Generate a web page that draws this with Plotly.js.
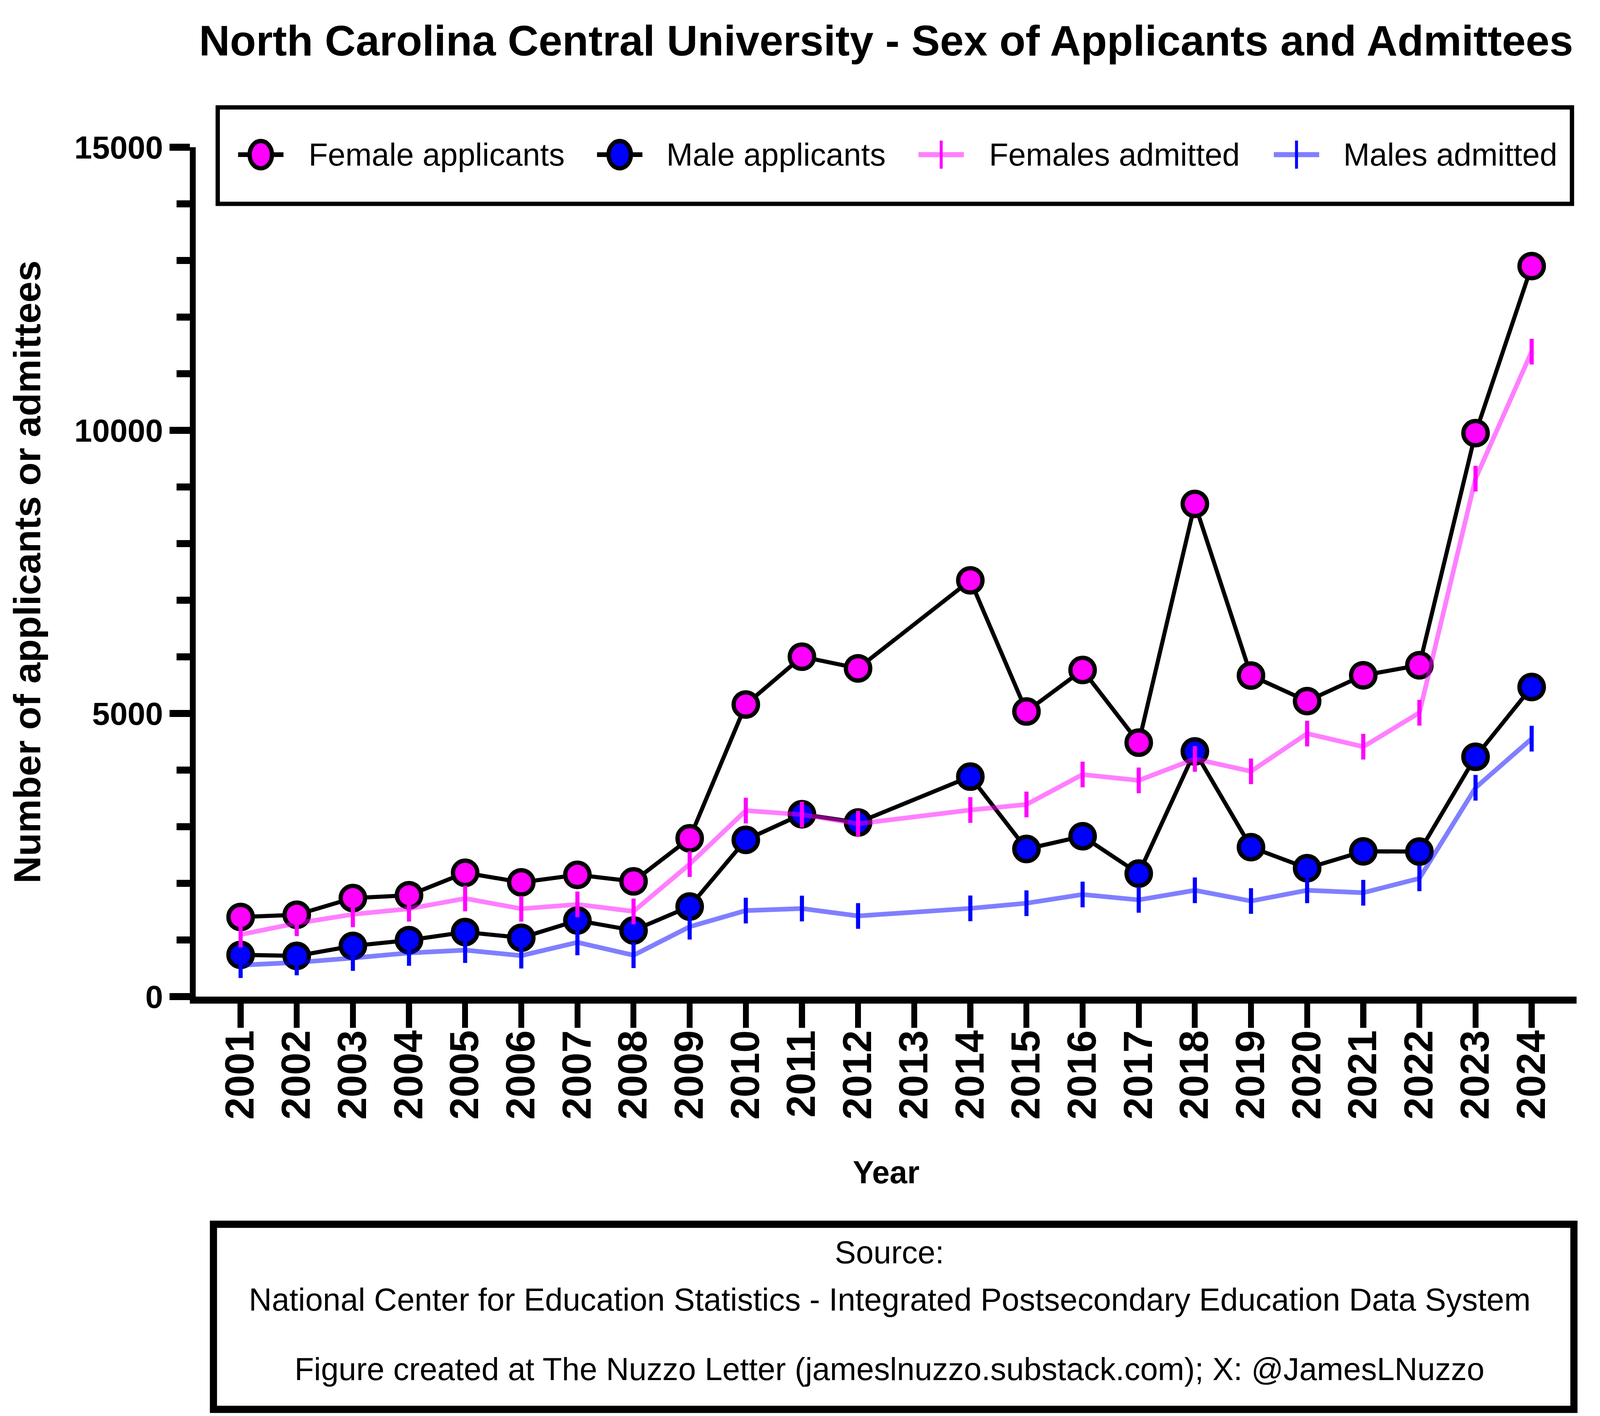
<!DOCTYPE html>
<html>
<head>
<meta charset="utf-8">
<script src="https://cdn.plot.ly/plotly-3.0.1.min.js"></script>
<style>
  html, body { margin: 0; padding: 0; background: #fff; overflow: hidden; }
</style>
</head>
<body>
<div id="chart"></div>
<script>
// years with data (no 2013 values in the source)
const years = [2001, 2002, 2003, 2004, 2005, 2006, 2007, 2008, 2009, 2010, 2011, 2012,
               2014, 2015, 2016, 2017, 2018, 2019, 2020, 2021, 2022, 2023, 2024];

// every year on the axis, 2013 included
const tickYears = [2001, 2002, 2003, 2004, 2005, 2006, 2007, 2008, 2009, 2010, 2011, 2012,
                   2013, 2014, 2015, 2016, 2017, 2018, 2019, 2020, 2021, 2022, 2023, 2024];
const tickLabels = tickYears.map(String);

const femaleApplicants = [1405, 1445, 1740, 1790, 2186, 2018, 2150, 2035, 2795, 5158, 6003, 5797,
                          7351, 5035, 5768, 4485, 8701, 5670, 5218, 5674, 5852, 9951, 12901];
const maleApplicants   = [737, 719, 895, 997, 1140, 1039, 1344, 1168, 1590, 2768, 3221, 3074,
                          3885, 2607, 2832, 2172, 4330, 2639, 2267, 2565, 2561, 4235, 5467];
const femalesAdmitted  = [1095, 1295, 1453, 1551, 1733, 1551, 1628, 1505, 2340, 3285, 3214, 3052,
                          3295, 3393, 3922, 3818, 4197, 3978, 4645, 4413, 5013, 9147, 11390];
const malesAdmitted    = [555, 603, 681, 771, 821, 723, 957, 730, 1234, 1519, 1555, 1424,
                          1558, 1649, 1803, 1708, 1877, 1688, 1877, 1834, 2088, 3688, 4555];

const yTicks = [0, 5000, 10000, 15000];
const yTickLabels = ['0', '5000', '10000', '15000'];

const seriesNames = ['Female applicants', 'Male applicants', 'Females admitted', 'Males admitted'];

const sourceLines = [
  'Source:',
  'National Center for Education Statistics - Integrated Postsecondary Education Data System',
  'Figure created at The Nuzzo Letter (jameslnuzzo.substack.com); X: @JamesLNuzzo'
];

const FONT = 'Liberation Sans, Arial, Helvetica, sans-serif';

// sizes below are measured on a 4867x3626 figure; the browser window may be
// narrower, so everything is scaled to whatever window we actually get
const REF_W = 4867, REF_H = 3626;
const W = window.innerWidth || REF_W, H = window.innerHeight || REF_H;
const kx = W / REF_W, ky = H / REF_H;
const k = Math.min(kx, ky), km = Math.sqrt(kx * ky);

const M = {l: 595 * kx, r: 71 * kx, t: 377 * ky, b: 1074 * ky};

// reference pixel position -> paper coordinate (frames, legend, notes)
function px(x) { return (x - 595) / (REF_W - 595 - 71); }
function py(y) { return (REF_H - 1074 - y) / (REF_H - 377 - 1074); }

const MAGENTA = '#FF00FF', BLUE = '#0000FF';
const MAGENTA_LINE = 'rgba(255,0,255,0.5)', BLUE_LINE = 'rgba(0,0,255,0.5)';

function applicants(name, y, fill) {
  return {
    x: years, y: y, name: name, type: 'scatter', mode: 'lines+markers', showlegend: false,
    line: {color: '#000000', width: 11.5 * km},
    marker: {symbol: 'circle', size: 68 * km, color: fill, line: {color: '#000000', width: 12 * km}}
  };
}

function admitted(name, y, lineColor, tickColor) {
  return {
    x: years, y: y, name: name, type: 'scatter', mode: 'lines+markers', showlegend: false,
    line: {color: lineColor, width: 13 * km},
    marker: {symbol: 'line-ns', size: 47 * ky, color: tickColor, line: {color: tickColor, width: 12.5 * kx}}
  };
}

var traces = [
  applicants(seriesNames[0], femaleApplicants, MAGENTA),
  applicants(seriesNames[1], maleApplicants, BLUE),
  admitted(seriesNames[2], femalesAdmitted, MAGENTA_LINE, MAGENTA),
  admitted(seriesNames[3], malesAdmitted, BLUE_LINE, BLUE)
];

// hand-made legend: Plotly caps legend symbols at 16px, far too small here
var legendY = py(396);
var legendMarkX = [793, 1885, 2863, 3944];
var legendTextX = [936, 2025, 3006, 4084];
var legendShapes = [];
var legendTexts = [];
legendMarkX.forEach(function (cx, i) {
  var isApplicants = i < 2;
  var fill = (i % 2 === 0) ? MAGENTA : BLUE;
  legendShapes.push({
    type: 'line', xref: 'paper', yref: 'paper', xsizemode: 'pixel', xanchor: px(cx),
    x0: -69 * kx, x1: 69 * kx, y0: legendY, y1: legendY,
    line: {color: isApplicants ? '#000' : (i === 2 ? MAGENTA_LINE : BLUE_LINE),
           width: (isApplicants ? 12 : 13) * ky}
  });
  if (isApplicants) {
    legendShapes.push({
      type: 'circle', xref: 'paper', yref: 'paper', xsizemode: 'pixel', ysizemode: 'pixel',
      xanchor: px(cx), yanchor: legendY, x0: -34 * kx, x1: 34 * kx, y0: -35 * ky, y1: 35 * ky,
      fillcolor: fill, line: {color: '#000', width: 12 * km}
    });
  } else {
    legendShapes.push({
      type: 'line', xref: 'paper', yref: 'paper', xsizemode: 'pixel', ysizemode: 'pixel',
      xanchor: px(cx), yanchor: legendY, x0: 0, x1: 0, y0: -36 * ky, y1: 36 * ky,
      line: {color: fill, width: 9 * kx}
    });
  }
  legendTexts.push({
    text: seriesNames[i], xref: 'paper', yref: 'paper', x: px(legendTextX[i]), y: legendY,
    xanchor: 'left', yanchor: 'middle', showarrow: false,
    font: {family: FONT, size: 96 * k, color: '#000'}
  });
});

var sourceY = [py(3206), py(3327), py(3505)];
var sourceTexts = sourceLines.map(function (t, i) {
  return {text: t, xref: 'paper', yref: 'paper', x: px(2706), y: sourceY[i],
          xanchor: 'center', yanchor: 'middle', showarrow: false,
          font: {family: FONT, size: 96.5 * k, color: '#000'}};
});

var layout = {
  width: W, height: H,
  margin: M,
  paper_bgcolor: '#fff', plot_bgcolor: '#fff',
  font: {family: FONT, color: '#000'},
  showlegend: false,
  title: {
    text: 'North Carolina Central University - Sex of Applicants and Admittees',
    font: {family: FONT, size: 130 * k, color: '#000', weight: 700},
    xref: 'paper', x: 0.5, xanchor: 'center',
    yref: 'container', y: 1 - 104 / REF_H, yanchor: 'middle'
  },
  xaxis: {
    range: [2000.2, 2024.8],
    showline: true, linecolor: '#000', linewidth: 18 * ky,
    ticks: 'outside', tickcolor: '#000', tickwidth: 18 * kx, ticklen: 62 * ky,
    showgrid: false, zeroline: false, automargin: false,
    tickmode: 'array', tickvals: tickYears, ticktext: tickLabels,
    tickangle: -90, ticklabelstandoff: -35 * ky,
    // rotated labels run along y, so they follow the vertical scale
    tickfont: {family: FONT, size: 103 * ky, color: '#000', weight: 700},
    title: {text: 'Year', font: {family: FONT, size: 96 * k, color: '#000', weight: 700}, standoff: 115 * ky}
  },
  yaxis: {
    range: [0, 15000],
    showline: true, linecolor: '#000', linewidth: 18 * kx,
    ticks: 'outside', tickcolor: '#000', tickwidth: 18 * ky, ticklen: 62 * kx,
    showgrid: false, zeroline: false, automargin: false,
    tickmode: 'array', tickvals: yTicks, ticktext: yTickLabels, ticklabelstandoff: -30 * kx,
    tickfont: {family: FONT, size: 97 * k, color: '#000', weight: 700},
    minor: {dtick: 1000, tick0: 0, ticks: 'outside', ticklen: 40 * kx, tickwidth: 18 * ky, tickcolor: '#000'},
    title: {text: 'Number of applicants or admittees',
            font: {family: FONT, size: 97 * ky, color: '#000', weight: 700}, standoff: 72 * kx}
  },
  shapes: [
    // legend frame
    {type: 'rect', xref: 'paper', yref: 'paper', x0: px(662), x1: px(4782), y0: py(522), y1: py(275),
     line: {color: '#000', width: 12 * km}, fillcolor: 'rgba(0,0,0,0)'},
    // source box
    {type: 'rect', xref: 'paper', yref: 'paper', x0: px(649), x1: px(4788), y0: py(3609), y1: py(3135),
     line: {color: '#000', width: 20 * km}, fillcolor: 'rgba(0,0,0,0)'}
  ].concat(legendShapes),
  annotations: legendTexts.concat(sourceTexts)
};

Plotly.newPlot('chart', traces, layout, {displayModeBar: false, staticPlot: true});
</script>
</body>
</html>
